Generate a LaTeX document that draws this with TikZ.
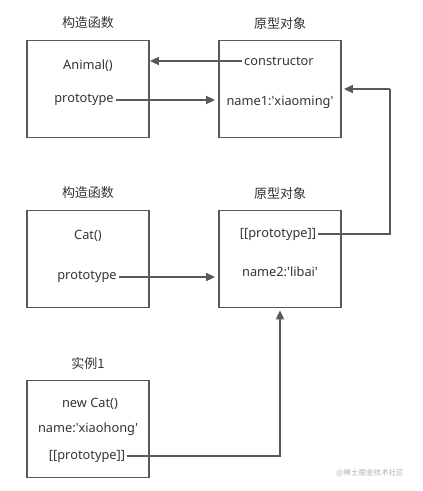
\documentclass[tikz,border=0pt]{standalone}
\usepackage{fontspec}
\setmainfont{Noto Sans}
\newfontfamily\cjk{Noto Sans CJK SC}
\usetikzlibrary{arrows.meta,positioning,calc}
\definecolor{linegray}{RGB}{89,89,89}
\definecolor{textgray}{RGB}{51,51,51}
\newcommand{\q}{\textquotesingle}

\begin{document}
\begin{tikzpicture}[x=1pt, y=-1pt,
    font=\fontsize{12.8}{15}\selectfont, text=textgray,
    box/.style={draw=linegray, line width=1.8pt, minimum width=122pt, minimum height=97pt, inner sep=0pt},
    title/.style={font=\cjk\fontsize{13}{15}\selectfont},
    txt/.style={inner sep=2pt},
    arr/.style={draw=linegray, line width=1.8pt, -{Triangle[length=9pt, width=8pt]}},
    wire/.style={draw=linegray, line width=1.8pt}]
      \useasboundingbox (0,0) rectangle (423,491);
      % boxes
      \node[box] (animalbox) at (88,89) {};
      \node[box] (protoone) at (280,89) {};
      \node[box] (catbox) at (88,259) {};
      \node[box] (prototwo) at (280,259) {};
      \node[box] (instbox) at (88,429) {};
      % titles
      \foreach \b/\t in {animalbox/构造函数, protoone/原型对象, catbox/构造函数, prototwo/原型对象}{
        \node[title, above=7pt of \b.north] {\t};
      }
      \node[title, above=7pt of instbox.north] (insttitle) {实例1};
      % box contents
      \node[txt] (animalfn) at (88,66) {Animal()};
      \node[txt] (animalpro) at (84,100) {prototype};
      \node[txt] (ctor) at (279,61) {constructor};
      \node[txt] (nameone) at (280,102) {name1:\q xiaoming\q};
      \node[txt] (catfn) at (88,236) {Cat()};
      \node[txt] (catpro) at (87,277) {prototype};
      \node[txt] (twopro) at (278,234) {[[prototype]]};
      \node[txt] (nametwo) at (280,272) {name2:\q libai\q};
      \node[txt] (newcat) at (90,404) {new Cat()};
      \node[txt] (instname) at (88,429) {name:\q xiaohong\q};
      \node[txt] (instpro) at (87,456) {[[prototype]]};
      % links
      \draw[arr] (ctor.west) -- (animalbox.east |- ctor.west);
      \draw[arr] (animalpro.east) -- ($(protoone.west |- animalpro.east)+(-3,0)$);
      \draw[arr] (catpro.east) -- ($(prototwo.west |- catpro.east)+(-3,0)$);
      \coordinate (turn) at (390,89);
      \draw[wire] (twopro.east) -| (turn);
      \draw[arr] (turn) -- ($(protoone.east |- turn)+(2,0)$);
      \draw[arr] (instpro.east) -| ($(prototwo.south)+(0,2)$);
      % watermark
      \node[text=black!30, font=\cjk\fontsize{7.5}{9}\selectfont] (mark) at (370,473) {@稀土掘金技术社区};
\end{tikzpicture}
\end{document}
